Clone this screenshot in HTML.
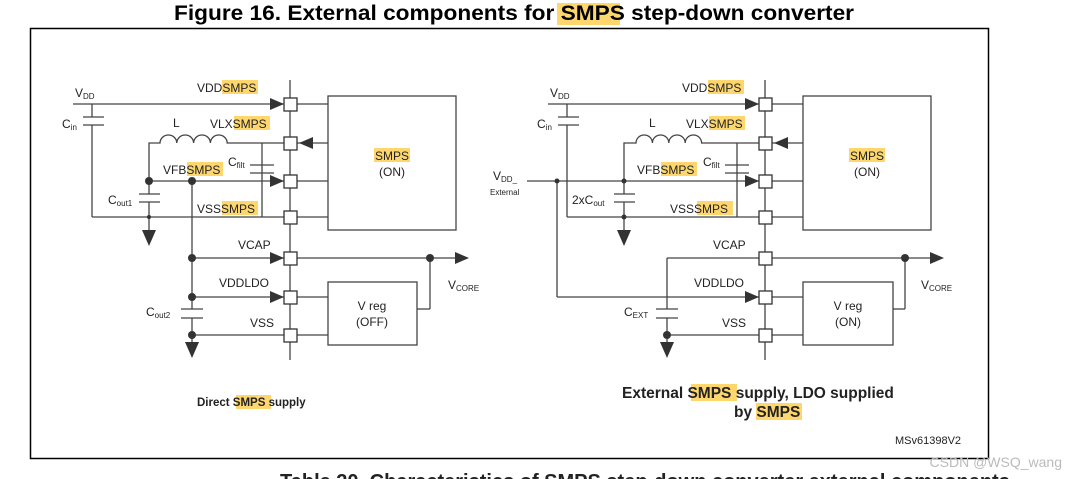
<!DOCTYPE html>
<html><head><meta charset="utf-8"><style>
html,body{margin:0;padding:0;background:#fff;}
svg{display:block;font-family:"Liberation Sans",Arial,sans-serif;}
</style></head><body>
<svg width="1070" height="479" viewBox="0 0 1070 479" xmlns="http://www.w3.org/2000/svg">
<defs>
<g id="tri"><path d="M0,-6 L14,0 L0,6 Z" fill="#333"/></g>
<g id="gnd"><path d="M-7,0 L7,0 L0,16 Z" fill="#333"/></g>
</defs>
<!-- title -->
<rect x="557" y="3" width="63" height="22" fill="#fdd66e"/>
<text x="514" y="20" font-size="21" font-weight="bold" text-anchor="middle" textLength="680" lengthAdjust="spacingAndGlyphs">Figure 16. External components for SMPS step-down converter</text>
<!-- frame -->
<rect x="30.5" y="28.5" width="958" height="430" fill="none" stroke="#000" stroke-width="1.5"/>

<g id="common" stroke="#444" stroke-width="1.2" fill="none">
</g>

<!-- LEFT DIAGRAM -->
<g stroke="#444" stroke-width="1.3" fill="none">
  <line x1="290" y1="80" x2="290" y2="360"/>
  <rect x="328" y="96" width="128" height="134"/>
  <rect x="328" y="282" width="89" height="63"/>
  <!-- pin connections to boxes -->
  <line x1="297" y1="104" x2="328" y2="104"/>
  <line x1="297" y1="143" x2="328" y2="143"/>
  <line x1="297" y1="181" x2="328" y2="181"/>
  <line x1="297" y1="217" x2="328" y2="217"/>
  <line x1="297" y1="297" x2="328" y2="297"/>
  <line x1="297" y1="335" x2="328" y2="335"/>
  <!-- VDD -->
  <line x1="73" y1="104" x2="284" y2="104"/>
  <line x1="92" y1="104" x2="92" y2="117"/>
  <line x1="83" y1="117" x2="104" y2="117"/>
  <line x1="83" y1="125" x2="104" y2="125"/>
  <line x1="92" y1="125" x2="92" y2="217"/>
  <line x1="92" y1="217" x2="284" y2="217"/>
  <!-- inductor -->
  <path d="M149,181 L149,143 L160,143 a8.4,8 0 0 1 16.8,0 a8.4,8 0 0 1 16.8,0 a8.4,8 0 0 1 16.8,0 a8.4,8 0 0 1 16.8,0 L284,143"/>
  <!-- Cfilt -->
  <line x1="262" y1="143" x2="262" y2="217"/>
  <line x1="250" y1="165" x2="274" y2="165"/>
  <line x1="250" y1="173" x2="274" y2="173"/>
  <!-- VFB -->
  <line x1="149" y1="181" x2="284" y2="181"/>
  <line x1="149" y1="181" x2="149" y2="194"/>
  <line x1="139" y1="194" x2="160" y2="194"/>
  <line x1="139" y1="202" x2="160" y2="202"/>
  <line x1="149" y1="202" x2="149" y2="232"/>
  <!-- vertical x=192 -->
  <line x1="192" y1="181" x2="192" y2="309"/>
  <line x1="181" y1="309" x2="203" y2="309"/>
  <line x1="181" y1="318" x2="203" y2="318"/>
  <line x1="192" y1="318" x2="192" y2="344"/>
  <line x1="192" y1="258" x2="284" y2="258"/>
  <line x1="192" y1="297" x2="284" y2="297"/>
  <line x1="192" y1="335" x2="284" y2="335"/>
  <!-- VCAP/VCORE -->
  <line x1="297" y1="258" x2="455" y2="258"/>
  <line x1="430" y1="258" x2="430" y2="309"/>
  <line x1="430" y1="309" x2="417" y2="309"/>
</g>
<g fill="#fff" stroke="#333" stroke-width="1.3">
  <rect x="284" y="98" width="13" height="13"/><rect x="284" y="137" width="13" height="13"/>
  <rect x="284" y="175" width="13" height="13"/><rect x="284" y="211" width="13" height="13"/>
  <rect x="284" y="252" width="13" height="13"/><rect x="284" y="291" width="13" height="13"/>
  <rect x="284" y="329" width="13" height="13"/>
</g>
<g fill="#333">
  <use href="#tri" x="270" y="104"/>
  <use href="#tri" x="270" y="181"/>
  <use href="#tri" x="270" y="258"/>
  <use href="#tri" x="270" y="297"/>
  <use href="#tri" x="455" y="258"/>
  <path d="M299,143 L313,137 L313,149 Z"/>
  <use href="#gnd" x="149" y="230"/>
  <use href="#gnd" x="192" y="342"/>
  <circle cx="149" cy="181" r="4"/><circle cx="192" cy="181" r="4"/>
  <circle cx="149" cy="217" r="2"/>
  <circle cx="192" cy="258" r="4"/><circle cx="192" cy="297" r="4"/><circle cx="192" cy="335" r="4"/>
  <circle cx="430" cy="258" r="4"/>
</g>
<!-- left labels -->
<g font-size="12" fill="#222">
  <rect x="222" y="80" width="36" height="14" fill="#fdd66e"/>
  <text x="197" y="92">VDDSMPS</text>
  <rect x="234" y="116" width="36" height="14" fill="#fdd66e"/>
  <text x="210" y="128">VLXSMPS</text>
  <rect x="187" y="162" width="36" height="14" fill="#fdd66e"/>
  <text x="163" y="174">VFBSMPS</text>
  <rect x="222" y="201" width="36" height="14" fill="#fdd66e"/>
  <text x="197" y="213">VSSSMPS</text>
  <text x="238" y="249">VCAP</text>
  <text x="219" y="287">VDDLDO</text>
  <text x="250" y="327">VSS</text>
  <text x="75" y="97">V<tspan font-size="8" dy="2">DD</tspan></text>
  <text x="62" y="128">C<tspan font-size="8" dy="2">in</tspan></text>
  <text x="173" y="127">L</text>
  <text x="228" y="166">C<tspan font-size="8" dy="2">filt</tspan></text>
  <text x="108" y="204">C<tspan font-size="8" dy="2">out1</tspan></text>
  <text x="146" y="316">C<tspan font-size="8" dy="2">out2</tspan></text>
  <text x="448" y="289">V<tspan font-size="8" dy="2">CORE</tspan></text>
  <rect x="374" y="148" width="36" height="14" fill="#fdd66e"/>
  <text x="392" y="160" text-anchor="middle">SMPS</text>
  <text x="392" y="176" text-anchor="middle">(ON)</text>
  <text x="372" y="310" text-anchor="middle">V reg</text>
  <text x="372" y="326" text-anchor="middle">(OFF)</text>
  <rect x="236" y="395" width="35" height="14" fill="#fdd66e"/>
  <text x="197" y="406" font-weight="bold" font-size="11.5">Direct SMPS supply</text>
</g>

<!-- RIGHT DIAGRAM -->
<g stroke="#444" stroke-width="1.3" fill="none">
  <line x1="765" y1="80" x2="765" y2="360"/>
  <rect x="803" y="96" width="128" height="134"/>
  <rect x="803" y="282" width="90" height="63"/>
  <line x1="772" y1="104" x2="803" y2="104"/>
  <line x1="772" y1="143" x2="803" y2="143"/>
  <line x1="772" y1="181" x2="803" y2="181"/>
  <line x1="772" y1="217" x2="803" y2="217"/>
  <line x1="772" y1="297" x2="803" y2="297"/>
  <line x1="772" y1="335" x2="803" y2="335"/>
  <line x1="548" y1="104" x2="759" y2="104"/>
  <line x1="567" y1="104" x2="567" y2="117"/>
  <line x1="558" y1="117" x2="579" y2="117"/>
  <line x1="558" y1="125" x2="579" y2="125"/>
  <line x1="567" y1="125" x2="567" y2="217"/>
  <line x1="567" y1="217" x2="759" y2="217"/>
  <path d="M624,194 L624,143 L636,143 a8.2,8 0 0 1 16.4,0 a8.2,8 0 0 1 16.4,0 a8.2,8 0 0 1 16.4,0 a8.2,8 0 0 1 16.4,0 L759,143"/>
  <line x1="737" y1="143" x2="737" y2="217"/>
  <line x1="725" y1="165" x2="749" y2="165"/>
  <line x1="725" y1="173" x2="749" y2="173"/>
  <line x1="527" y1="181" x2="759" y2="181"/>
  <line x1="614" y1="194" x2="635" y2="194"/>
  <line x1="614" y1="202" x2="635" y2="202"/>
  <line x1="624" y1="202" x2="624" y2="232"/>
  <line x1="557" y1="181" x2="557" y2="297"/>
  <line x1="557" y1="297" x2="759" y2="297"/>
  <line x1="667" y1="258" x2="930" y2="258"/>
  <line x1="667" y1="258" x2="667" y2="309"/>
  <line x1="656" y1="309" x2="678" y2="309"/>
  <line x1="656" y1="318" x2="678" y2="318"/>
  <line x1="667" y1="318" x2="667" y2="344"/>
  <line x1="667" y1="335" x2="759" y2="335"/>
  <line x1="905" y1="258" x2="905" y2="309"/>
  <line x1="905" y1="309" x2="893" y2="309"/>
</g>
<g fill="#fff" stroke="#333" stroke-width="1.3">
  <rect x="759" y="98" width="13" height="13"/><rect x="759" y="137" width="13" height="13"/>
  <rect x="759" y="175" width="13" height="13"/><rect x="759" y="211" width="13" height="13"/>
  <rect x="759" y="252" width="13" height="13"/><rect x="759" y="291" width="13" height="13"/>
  <rect x="759" y="329" width="13" height="13"/>
</g>
<g fill="#333">
  <use href="#tri" x="745" y="104"/>
  <use href="#tri" x="745" y="181"/>
  <use href="#tri" x="745" y="297"/>
  <use href="#tri" x="930" y="258"/>
  <path d="M774,143 L788,137 L788,149 Z"/>
  <use href="#gnd" x="624" y="230"/>
  <use href="#gnd" x="667" y="342"/>
  <circle cx="557" cy="181" r="2.5"/><circle cx="624" cy="181" r="2.5"/><circle cx="624" cy="217" r="2.5"/>
  <circle cx="667" cy="335" r="4"/><circle cx="905" cy="258" r="4"/>
</g>
<g font-size="12" fill="#222">
  <rect x="708" y="80" width="36" height="14" fill="#fdd66e"/>
  <text x="682" y="92">VDDSMPS</text>
  <rect x="709" y="116" width="36" height="14" fill="#fdd66e"/>
  <text x="686" y="128">VLXSMPS</text>
  <rect x="661" y="162" width="36" height="14" fill="#fdd66e"/>
  <text x="637" y="174">VFBSMPS</text>
  <rect x="697" y="201" width="36" height="14" fill="#fdd66e"/>
  <text x="670" y="213">VSSSMPS</text>
  <text x="713" y="249">VCAP</text>
  <text x="694" y="287">VDDLDO</text>
  <text x="722" y="327">VSS</text>
  <text x="550" y="97">V<tspan font-size="8" dy="2">DD</tspan></text>
  <text x="537" y="128">C<tspan font-size="8" dy="2">in</tspan></text>
  <text x="649" y="127">L</text>
  <text x="703" y="166">C<tspan font-size="8" dy="2">filt</tspan></text>
  <text x="572" y="204">2xC<tspan font-size="8" dy="2">out</tspan></text>
  <text x="624" y="316">C<tspan font-size="8" dy="2">EXT</tspan></text>
  <text x="921" y="289">V<tspan font-size="8" dy="2">CORE</tspan></text>
  <text x="493" y="180">V<tspan font-size="8" dy="2">DD_</tspan></text>
  <text x="490" y="195" font-size="8">External</text>
  <rect x="849" y="148" width="36" height="14" fill="#fdd66e"/>
  <text x="867" y="160" text-anchor="middle">SMPS</text>
  <text x="867" y="176" text-anchor="middle">(ON)</text>
  <text x="848" y="310" text-anchor="middle">V reg</text>
  <text x="848" y="326" text-anchor="middle">(ON)</text>
  <rect x="691" y="384" width="46" height="17" fill="#fdd66e"/>
  <text x="622" y="398" font-weight="bold" font-size="15.5">External SMPS supply, LDO supplied</text>
  <rect x="756" y="403" width="46" height="17" fill="#fdd66e"/>
  <text x="734" y="417" font-weight="bold" font-size="15.5">by SMPS</text>
  <text x="895" y="444" font-size="11">MSv61398V2</text>
</g>
<text x="1062" y="467" font-size="14" fill="#bbb" text-anchor="end">CSDN @WSQ_wang</text>
<text x="280" y="488" font-size="20" font-weight="bold" fill="#222">Table 20. Characteristics of SMPS step-down converter external components</text>
</svg>
</body></html>
